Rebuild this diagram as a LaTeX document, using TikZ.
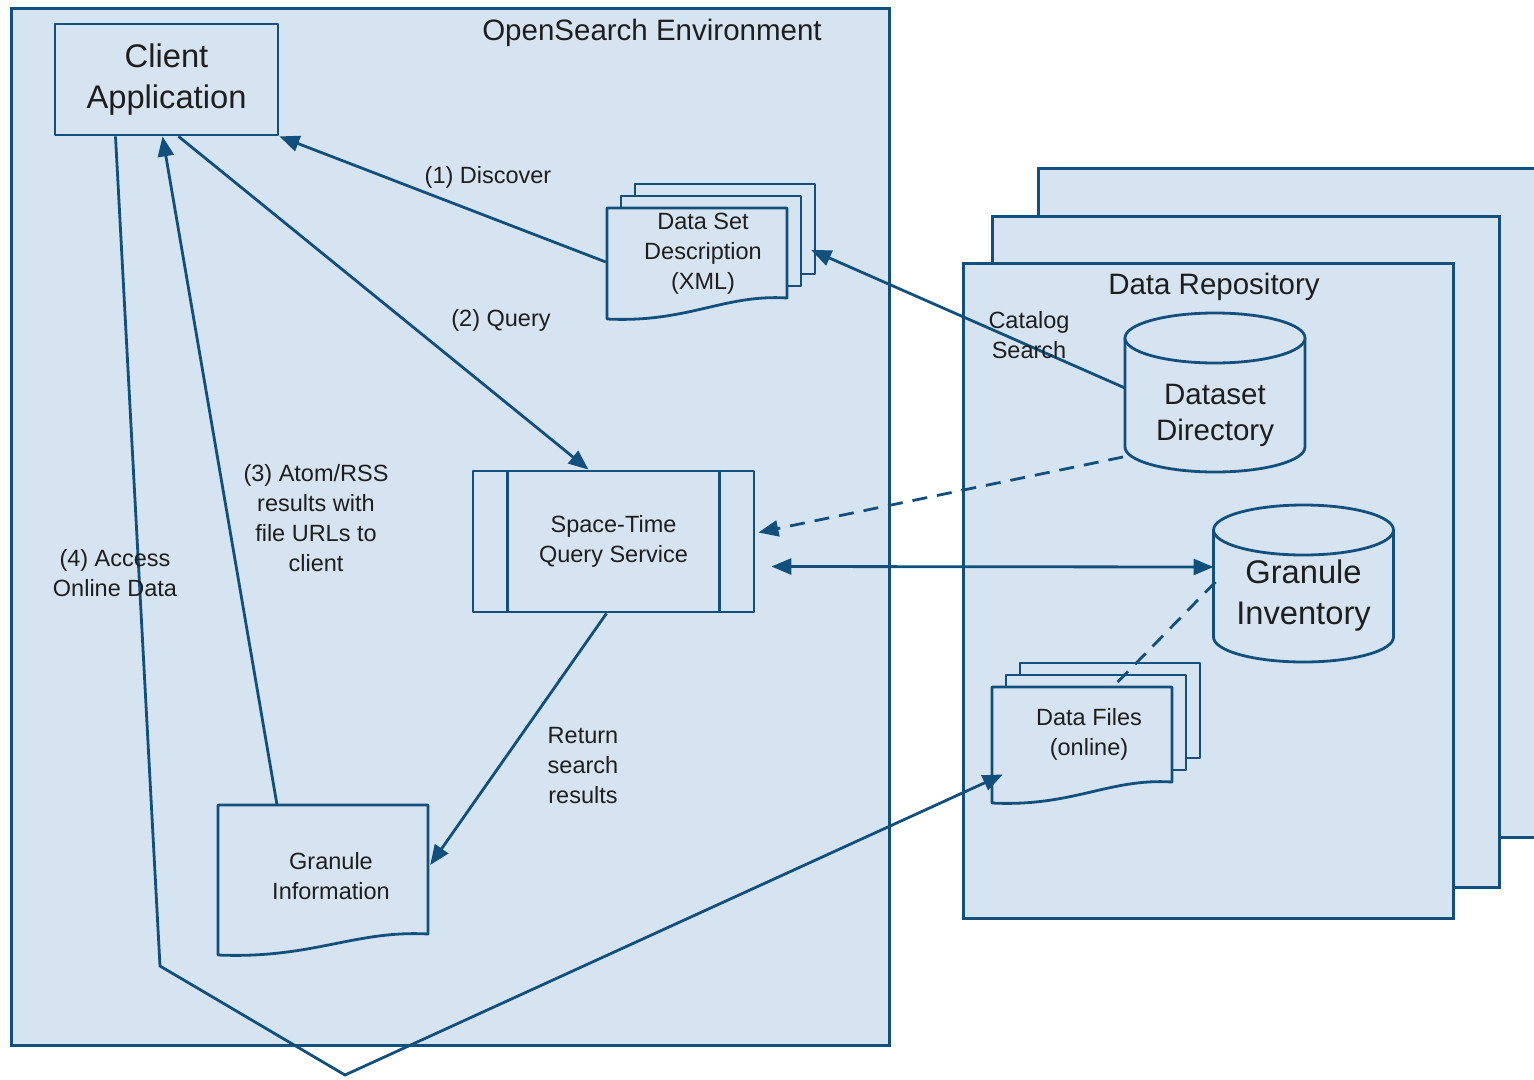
\documentclass[tikz,border=0pt]{standalone}
\usepackage{fontspec}
\setmainfont{Liberation Sans}
\usetikzlibrary{arrows.meta,calc}

\definecolor{osfill}{RGB}{214,228,241}
\definecolor{osline}{RGB}{17,80,124}
\definecolor{ostext}{RGB}{30,30,30}

\tikzset{
  panel/.style={draw=osline, fill=osfill, line width=3pt},
  outline/.style={draw=osline, fill=osfill, line width=2.8pt, line join=round},
  wire/.style={draw=osline, line width=2.8pt},
  flow/.style={wire, -{Triangle[length=20pt,width=16pt]}},
  twoway/.style={wire, {Triangle[length=20pt,width=16pt]}-{Triangle[length=20pt,width=16pt]}},
  smalltxt/.style={text=ostext, align=center, font=\fontsize{23.5}{30}\selectfont},
  midtxt/.style={text=ostext, align=center, font=\fontsize{29.5}{36}\selectfont},
  bigtxt/.style={text=ostext, align=center, font=\fontsize{32.7}{41}\selectfont},
}

% page with a wavy bottom: left, top, right, bottom (right end)
\newcommand{\docpage}[4]{%
  \filldraw[outline] (#1,#2) -- (#3,#2) -- (#3,#4)
    .. controls ({#3-0.35*(#3-#1)},{#4-4}) and ({#1+0.45*(#3-#1)},{#4+25}) .. (#1,{#4+21}) -- cycle;}
% three pages stacked
\newcommand{\docstack}[4]{%
  \foreach \k in {2,1}
    \filldraw[outline] ({#1+14*\k},{#2-12*\k}) rectangle ({#3+14*\k},{#4-12*\k});
  \docpage{#1}{#2}{#3}{#4}}
% database drum: centre x, top y, bottom y
\newcommand{\dbshape}[3]{%
  \fill[osfill] ({#1-90},#2) -- ({#1-90},#3) arc[start angle=180,end angle=360,x radius=90pt,y radius=25pt] -- ({#1+90},#2) -- cycle;
  \draw[wire] ({#1-90},#2) -- ({#1-90},#3) arc[start angle=180,end angle=360,x radius=90pt,y radius=25pt] -- ({#1+90},#2);
  \filldraw[outline] (#1,#2) ellipse[x radius=90pt,y radius=25pt];}

\begin{document}
\begin{tikzpicture}[x=1pt,y=-1pt]
\useasboundingbox (0,0) rectangle (1534,1079);
\clip (0,0) rectangle (1534,1079);

\node[panel, anchor=north west, minimum width=878pt, minimum height=1037pt] (env) at (10,7) {};
\node[midtxt] (envtitle) at (652,33) {OpenSearch Environment};

\node[panel, anchor=north west, minimum width=540pt, minimum height=669pt] (repoC) at (1037,167) {};
\node[panel, anchor=north west, minimum width=507pt, minimum height=671pt] (repoB) at (991,215) {};
\node[panel, anchor=north west, minimum width=490pt, minimum height=655pt] (repoA) at (962,262) {};
\node[midtxt] (repotitle) at (1214,287) {Data Repository};

\node[outline, bigtxt, minimum width=223pt, minimum height=111pt] (client) at (166.5,79.5) {Client\\Application};

\node[outline, smalltxt, minimum width=281pt, minimum height=141pt] (stqs) at (613.5,541.5) {Space-Time\\Query Service};
\draw[wire] ([xshift=36pt]stqs.north west) -- ([xshift=36pt]stqs.south west);
\draw[wire] ([xshift=-36pt]stqs.north east) -- ([xshift=-36pt]stqs.south east);

\docstack{607}{208}{787}{298}
\node[smalltxt, minimum width=180pt, minimum height=90pt] (dsd) at (703,254) {Data Set\\Description\\(XML)};

\docstack{992}{687}{1172}{782}
\node[smalltxt, minimum width=180pt, minimum height=95pt] (files) at (1089,734.5) {Data Files\\(online)};

\docpage{218}{805}{428}{934}
\node[smalltxt, minimum width=210pt, minimum height=142pt] (ginfo) at (331,876) {Granule\\Information};

\dbshape{1215}{338}{447}
\node[midtxt] (dsdir) at (1215,415) {Dataset\\Directory};

\dbshape{1303.5}{530}{637}
\node[bigtxt] (ginv) at (1303.5,596) {Granule\\Inventory};

\coordinate (bendA) at (160,966);
\coordinate (bendB) at (345,1075);

\draw[flow] ([xshift=-7pt,yshift=-8pt]dsd.west) -- (client.south east);
\draw[flow] ([shift={(-90pt,27pt)}]dsdir.center) -- ([xshift=18pt,yshift=4pt]dsd.east);
\draw[flow] ([xshift=12pt]client.south) -- ([xshift=-25pt]stqs.north);
\draw[flow] ([xshift=-54pt]ginfo.north) -- ([xshift=-4pt]client.south);
\draw[flow] ([xshift=-7pt]stqs.south) -- ([xshift=-6pt,yshift=11pt]ginfo.east);
\draw[flow, dash pattern=on 15pt off 10pt] ([shift={(-92pt,-42pt)}]dsdir.center) -- ([xshift=3pt,yshift=9pt]stqs.east);
\draw[twoway] ([shift={(16pt,-25pt)}]stqs.east) -- ([shift={(-90pt,29pt)}]ginv.center);
\draw[wire, dash pattern=on 15pt off 10pt] ([shift={(-88pt,14pt)}]ginv.center) -- ([xshift=24pt]files.north);
\draw[flow] ([xshift=-51pt]client.south) -- (bendA) -- (bendB) -- ([shift={(4pt,-40pt)}]files.west);

\node[smalltxt] (lbldiscover) at (488,177) {(1) Discover};
\node[smalltxt] (lblquery) at (501,320) {(2) Query};
\node[smalltxt] (lblatom) at (316,518) {(3) Atom/RSS\\results with\\file URLs to\\client};
\node[smalltxt] (lblaccess) at (115,573) {(4) Access\\Online Data};
\node[smalltxt] (lblreturn) at (583,766) {Return\\search\\results};
\node[smalltxt] (lblcatalog) at (1029,335) {Catalog\\Search};
\end{tikzpicture}
\end{document}
